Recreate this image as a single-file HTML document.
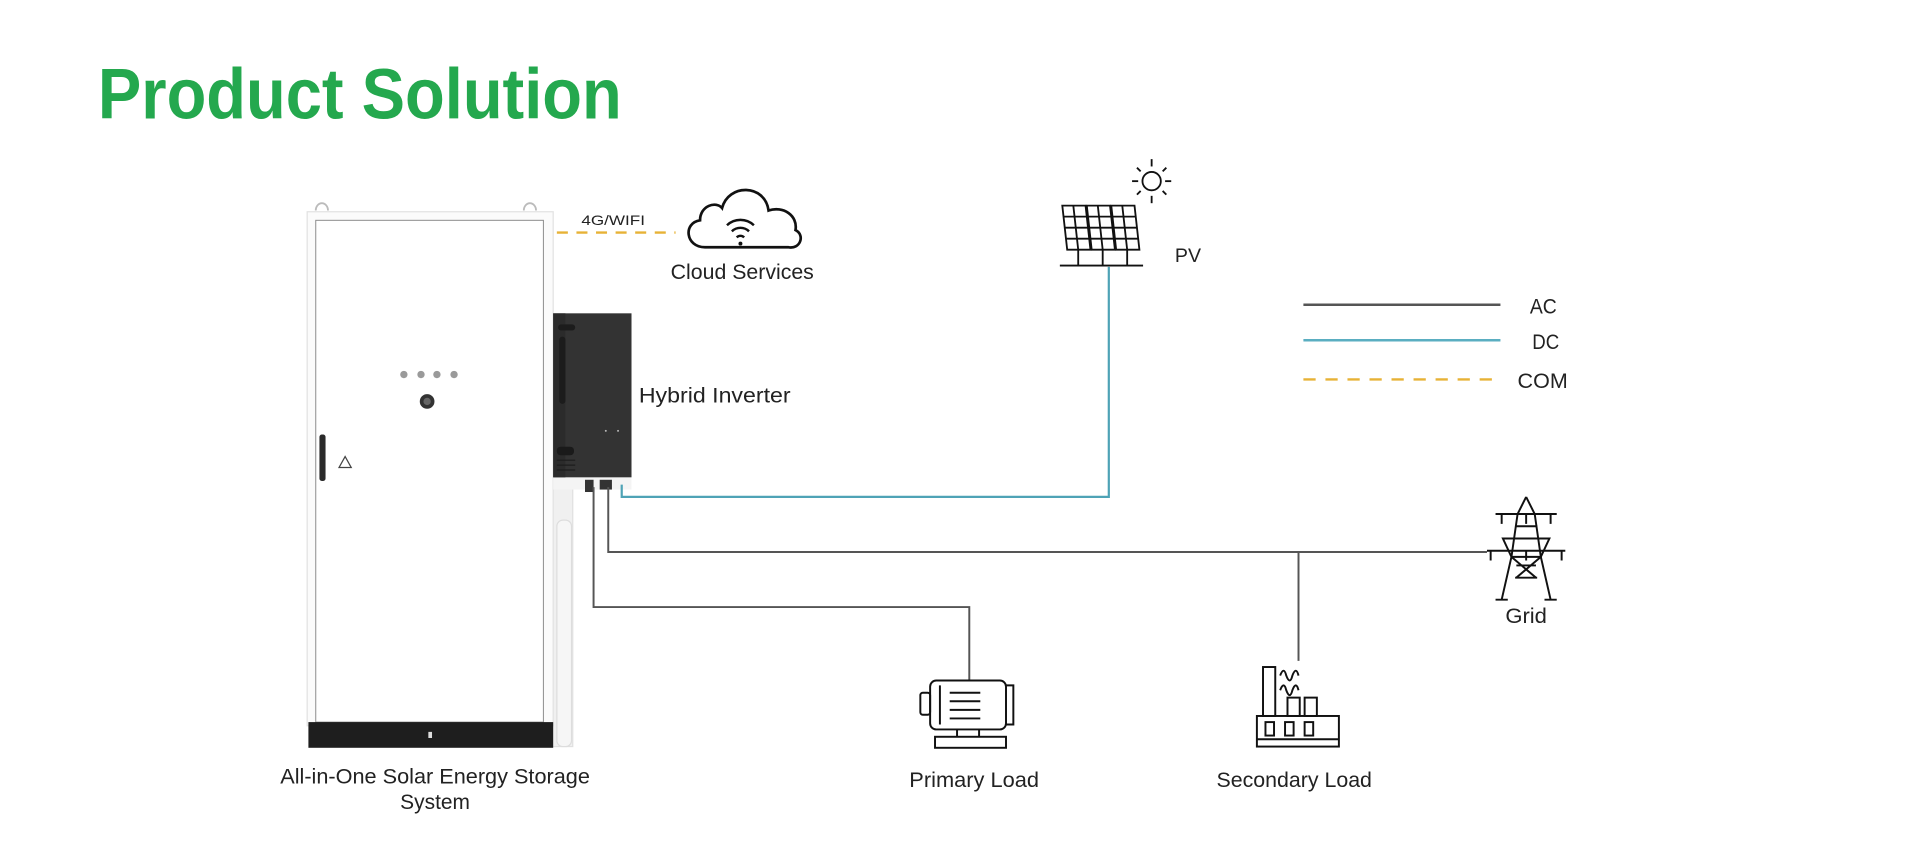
<!DOCTYPE html>
<html><head><meta charset="utf-8"><style>
html,body{margin:0;padding:0;background:#fff;}
svg{display:block;}
text{font-family:"Liberation Sans",sans-serif;fill:#222;}
</style></head><body>
<svg width="1919" height="862" viewBox="0 0 1568 704.3" xmlns="http://www.w3.org/2000/svg">
<rect width="1568" height="704.3" fill="#fff"/>
<text x="80" y="97" font-size="58" font-weight="bold" textLength="428" lengthAdjust="spacingAndGlyphs" style="fill:#24a84e">Product Solution</text>

<rect x="448" y="395" width="20" height="215" fill="#f0f0f0" stroke="#e0e0e0"/>
<rect x="455" y="425" width="12" height="185" rx="5" fill="#f6f6f6" stroke="#ddd"/>
<path d="M258 172 a5 6 0 0 1 10 0 M428 172 a5 6 0 0 1 10 0" stroke="#bbb" stroke-width="1.5" fill="none"/>
<rect x="251" y="173" width="201" height="420" fill="#fbfbfb" stroke="#e2e2e2"/>
<rect x="258" y="180" width="186" height="410" fill="#fff" stroke="#8a8a8a" stroke-width="0.8"/>
<rect x="252" y="590" width="200" height="21" fill="#1e1e1e"/>
<rect x="350" y="598" width="3" height="5" fill="#ddd"/>
<rect x="261" y="355" width="5" height="38" rx="2" fill="#2a2a2a"/>
<path d="M277 382 l5 -9 l5 9 z" fill="none" stroke="#444" stroke-width="1"/>
<g fill="#9a9a9a"><circle cx="330" cy="306" r="3"/><circle cx="344" cy="306" r="3"/><circle cx="357" cy="306" r="3"/><circle cx="371" cy="306" r="3"/></g>
<circle cx="349" cy="328" r="6" fill="#333"/><circle cx="349" cy="328" r="3" fill="#666"/>

<rect x="452" y="388" width="64" height="12" fill="#f4f4f4"/>
<rect x="452" y="256" width="64" height="134" fill="#333"/>
<rect x="452" y="256" width="10" height="134" fill="#2b2b2b"/>
<rect x="456" y="265" width="14" height="5" rx="2.5" fill="#1c1c1c"/>
<rect x="457" y="275" width="5" height="55" rx="2.5" fill="#1c1c1c"/>
<rect x="455" y="365" width="14" height="7" rx="3" fill="#1a1a1a"/>
<g stroke="#1d1d1d" stroke-width="1"><line x1="455" y1="376" x2="470" y2="376"/><line x1="455" y1="380" x2="470" y2="380"/><line x1="455" y1="384" x2="470" y2="384"/></g>
<circle cx="495" cy="352" r="0.8" fill="#bbb"/><circle cx="505" cy="352" r="0.8" fill="#bbb"/>
<rect x="478" y="392" width="7" height="10" fill="#333"/><rect x="490" y="392" width="10" height="8" fill="#333"/>

<path d="M508 396 V406 H906 V218" fill="none" stroke="#4ea3b6" stroke-width="1.8"/>
<path d="M497 398 V451 H1215 M1061 451 V540" fill="none" stroke="#555" stroke-width="1.6"/>
<path d="M485 398 V496 H792 V556" fill="none" stroke="#555" stroke-width="1.6"/>
<line x1="455" y1="190" x2="552" y2="190" stroke="#e7b236" stroke-width="2" stroke-dasharray="9,7"/>
<text x="475" y="184" font-size="11.5" textLength="52" lengthAdjust="spacingAndGlyphs">4G/WIFI</text>

<path d="M576 202 C560 202 558 182 572 180 C572 168 585 164 590 170 C595 150 625 150 628 172 C640 168 652 176 650 188 C658 192 654 204 644 202 Z" fill="none" stroke="#111" stroke-width="2.2"/>
<path d="M594 184 a16 16 0 0 1 22 0 M598 189 a10 10 0 0 1 14 0 M602 194 a4 4 0 0 1 6 0" fill="none" stroke="#111" stroke-width="2"/>
<circle cx="605" cy="199" r="1.6" fill="#111"/>
<text x="548" y="228" font-size="17" textLength="117" lengthAdjust="spacingAndGlyphs">Cloud Services</text>

<text x="522" y="329" font-size="17" textLength="124" lengthAdjust="spacingAndGlyphs">Hybrid Inverter</text>

<g stroke="#111" stroke-width="1.5" fill="none"><circle cx="941" cy="148" r="7.5"/>
<line x1="941" y1="130" x2="941" y2="136"/><line x1="941" y1="160" x2="941" y2="166"/><line x1="925" y1="148" x2="930" y2="148"/><line x1="952" y1="148" x2="957" y2="148"/>
<line x1="929" y1="137" x2="932" y2="140"/><line x1="953" y1="137" x2="950" y2="140"/><line x1="929" y1="159" x2="932" y2="156"/><line x1="953" y1="159" x2="950" y2="156"/></g>
<g stroke="#111" stroke-width="1.5" fill="none">
<path d="M868 168 h19 l4 36 h-19 z"/><path d="M888 168 h19 l4 36 h-19 z"/><path d="M908 168 h19 l4 36 h-19 z"/>
<path d="M869 177 h59 M870 186 h59 M871 195 h59"/>
<path d="M877 168 l4 36 M897 168 l4 36 M917 168 l4 36"/>
<path d="M866 217 h68 M881 204 v13 M901 204 v13 M921 204 v13"/>
</g>
<text x="960" y="214" font-size="16">PV</text>

<line x1="1065" y1="249" x2="1226" y2="249" stroke="#555" stroke-width="2"/>
<line x1="1065" y1="278" x2="1226" y2="278" stroke="#5aaec1" stroke-width="2"/>
<line x1="1065" y1="310" x2="1226" y2="310" stroke="#e7b236" stroke-width="2" stroke-dasharray="10,8"/>
<text x="1250" y="256" font-size="17" textLength="22" lengthAdjust="spacingAndGlyphs">AC</text>
<text x="1252" y="285" font-size="17" textLength="22" lengthAdjust="spacingAndGlyphs">DC</text>
<text x="1240" y="317" font-size="17" textLength="41" lengthAdjust="spacingAndGlyphs">COM</text>

<g stroke="#111" stroke-width="1.6" fill="none">
<path d="M1247 406 L1240 420 L1235 455 L1227 490 M1247 406 L1254 420 L1259 455 L1267 490"/>
<path d="M1222 420 h50 M1238 430 h18 M1228 440 h38 L1259 455 h-24 Z M1215 450 h64"/>
<path d="M1239 462 h16 M1238 472 h18 M1235 455 l20 17 M1259 455 l-20 17"/>
<path d="M1227 420 v8 M1247 420 v8 M1267 420 v8 M1218 450 v8 M1247 450 v8 M1276 450 v8"/>
<path d="M1222 490 h10 M1262 490 h10"/>
</g>
<text x="1230" y="509" font-size="17" textLength="34" lengthAdjust="spacingAndGlyphs">Grid</text>

<g stroke="#111" stroke-width="1.6" fill="none">
<rect x="760" y="556" width="62" height="40" rx="5"/>
<rect x="752" y="566" width="8" height="18" rx="2"/>
<path d="M768 560 v32 M822 560 h6 v32 h-6"/>
<path d="M776 566 h25 M776 573 h25 M776 580 h25 M776 587 h25"/>
<path d="M782 596 v6 M800 596 v6"/>
<rect x="764" y="602" width="58" height="9"/>
</g>
<text x="743" y="643" font-size="17" textLength="106" lengthAdjust="spacingAndGlyphs">Primary Load</text>

<g stroke="#111" stroke-width="1.6" fill="none">
<rect x="1032" y="545" width="10" height="40"/>
<path d="M1046 552 q3 -8 5 0 q3 8 5 0 q3 -8 5 0 M1046 564 q3 -8 5 0 q3 8 5 0 q3 -8 5 0"/>
<rect x="1052" y="570" width="10" height="15"/><rect x="1066" y="570" width="10" height="15"/>
<rect x="1027" y="585" width="67" height="25"/>
<rect x="1034" y="590" width="7" height="11"/><rect x="1050" y="590" width="7" height="11"/><rect x="1066" y="590" width="7" height="11"/>
<path d="M1027 604 h67"/>
</g>
<text x="994" y="643" font-size="17" textLength="127" lengthAdjust="spacingAndGlyphs">Secondary Load</text>

<text x="229" y="640" font-size="17" textLength="253" lengthAdjust="spacingAndGlyphs">All-in-One Solar Energy Storage</text>
<text x="327" y="661" font-size="17" textLength="57" lengthAdjust="spacingAndGlyphs">System</text>
</svg>
</body></html>
